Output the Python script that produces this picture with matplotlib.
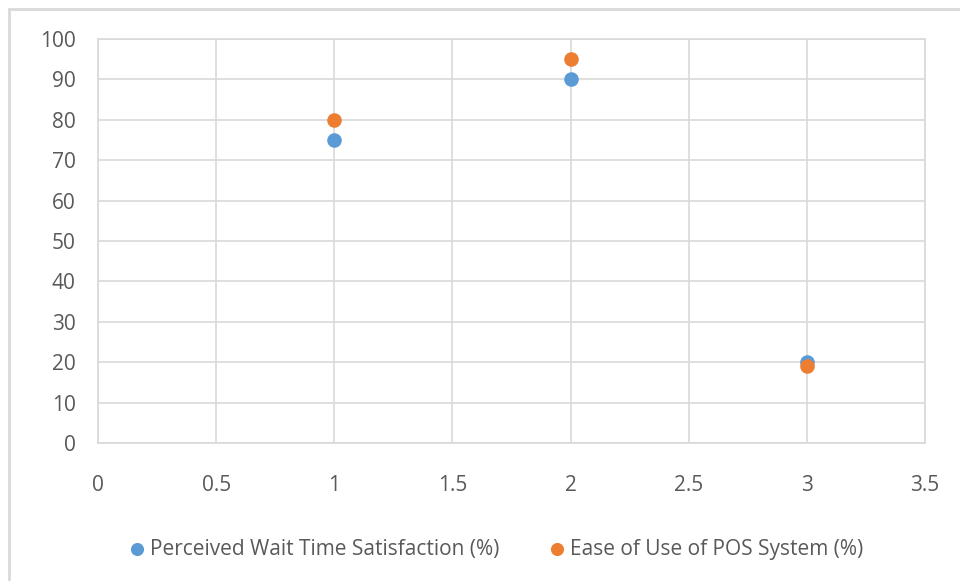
import matplotlib
matplotlib.use("Agg")
import matplotlib.pyplot as plt
from matplotlib.patches import Rectangle

x_vals = [1, 2, 3]
wait_satisfaction = [75, 90, 20]
ease_of_use = [80, 95, 19]
series_names = ["Perceived Wait Time Satisfaction (%)", "Ease of Use of POS System (%)"]
x_ticks = [0, 0.5, 1, 1.5, 2, 2.5, 3, 3.5]
x_tick_labels = ["0", "0.5", "1", "1.5", "2", "2.5", "3", "3.5"]
y_ticks = list(range(0, 101, 10))

plt.rcParams['font.family'] = ['Open Sans', 'DejaVu Sans']
text_color = "#595959"
grid_color = "#d9d9d9"

fig = plt.figure(figsize=(9.6, 5.81), dpi=100)
fig.patch.set_facecolor("white")
# outer chart frame
fig.add_artist(Rectangle((9/960, -0.1), 1.2, 1 - 9/581 + 0.1, transform=fig.transFigure,
                         fill=False, edgecolor=grid_color, linewidth=2))

ax = fig.add_axes([98/960, 1 - 443/581, (925 - 98)/960, (443 - 39)/581])
ax.scatter(x_vals, wait_satisfaction, s=110, color="#5b9bd5", label=series_names[0], zorder=3, linewidths=0)
ax.scatter(x_vals, ease_of_use, s=110, color="#ed7d31", label=series_names[1], zorder=4, linewidths=0)

ax.set_xlim(0, 3.5)
ax.set_ylim(0, 100)
ax.set_xticks(x_ticks)
ax.set_xticklabels(x_tick_labels)
ax.set_yticks(y_ticks)
ax.grid(True, color=grid_color, linewidth=1.2)
ax.set_axisbelow(True)
for s in ax.spines.values():
    s.set_color(grid_color)
    s.set_linewidth(1.2)
ax.tick_params(axis="both", length=0, colors=text_color, labelsize=15)
ax.tick_params(axis="x", pad=23)
ax.tick_params(axis="y", pad=16)

leg = fig.legend(loc="center", bbox_to_anchor=(494/960, 1 - 549/581), ncol=2, frameon=False,
                 fontsize=15, handletextpad=0.0, columnspacing=2.2, markerscale=0.9,
                 handlelength=1.2)
for t in leg.get_texts():
    t.set_color(text_color)

fig.savefig("out.png", dpi=100)
